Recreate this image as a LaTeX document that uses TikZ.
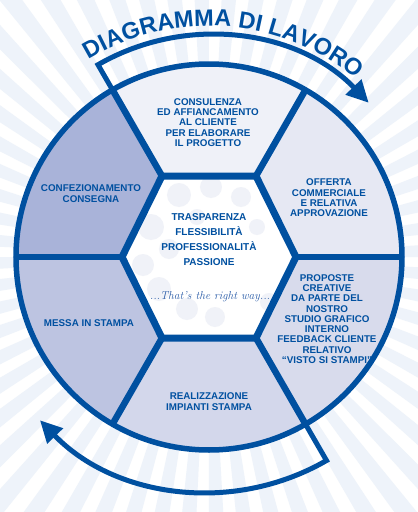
\documentclass[tikz,border=0pt]{standalone}
\usepackage{fontspec}
\setsansfont{Liberation Sans}
\usetikzlibrary{arrows.meta,decorations.text}
\definecolor{dblue}{HTML}{0050A0}
\definecolor{raycol}{HTML}{EEF3FA}
\definecolor{ftop}{HTML}{EFF1F8}
\definecolor{foff}{HTML}{E6E8F3}
\definecolor{fpro}{HTML}{D8DBEC}
\definecolor{frea}{HTML}{D3D7EB}
\definecolor{fmes}{HTML}{BDC4E1}
\definecolor{fcon}{HTML}{A9B3D9}
\definecolor{bubble}{HTML}{F0F2F8}
\definecolor{sblue}{HTML}{2A5CA8}
\newcommand\dgtitlefont{\sffamily\bfseries\fontsize{23.5}{23.5}\selectfont}
\begin{document}
\begin{tikzpicture}[x=1pt,y=1pt,
  lbl/.style={font=\sffamily\bfseries\fontsize{9.8}{10.3}\selectfont, text=dblue, align=center, inner sep=0pt},
  core/.style={font=\sffamily\bfseries\fontsize{10}{15}\selectfont, text=dblue, align=center, inner sep=0pt},
  ring/.style={draw=dblue, line width=6.5pt},
  flow/.style={draw=dblue, line width=5pt, line join=miter, -{Triangle[length=22pt,width=21pt]}},
]
\useasboundingbox (-209,-255) rectangle (209,257);
\fill[white] (-209,-255) rectangle (209,257);
% background rays
\begin{scope}
  \clip (-209,-255) rectangle (209,257);
  \foreach \a in {0,6,...,354} {\fill[raycol] (0,0) -- (\a:700) -- (\a+3.2:700) -- cycle;}
\end{scope}
% geometry
\coordinate (h0) at (87,0);
\coordinate (h60) at (47,81);
\coordinate (h120) at (-47,81);
\coordinate (h180) at (-87,0);
\coordinate (h240) at (-47,-81);
\coordinate (h300) at (47,-81);
\foreach \a in {0,60,120,180,240,300} {\coordinate (o\a) at (\a:193);}
% segments
\fill[ftop] (h60) -- (o60) arc[start angle=60,end angle=120,radius=193pt] -- (h120) -- cycle;
\fill[foff] (h0) -- (o0) arc[start angle=0,end angle=60,radius=193pt] -- (h60) -- cycle;
\fill[fpro] (h300) -- (o300) arc[start angle=-60,end angle=0,radius=193pt] -- (h0) -- cycle;
\fill[frea] (h240) -- (o240) arc[start angle=-120,end angle=-60,radius=193pt] -- (h300) -- cycle;
\fill[fmes] (h180) -- (o180) arc[start angle=180,end angle=240,radius=193pt] -- (h240) -- cycle;
\fill[fcon] (h120) -- (o120) arc[start angle=120,end angle=180,radius=193pt] -- (h180) -- cycle;
% hexagon interior
\fill[white] (h0) -- (h60) -- (h120) -- (h180) -- (h240) -- (h300) -- cycle;
\begin{scope}
  \clip (h0) -- (h60) -- (h120) -- (h180) -- (h240) -- (h300) -- cycle;
  \foreach \p/\r in {(-30,62)/12,(2,70)/11,(32,60)/10,(-58,30)/13,(-40,8)/10,(-66,-8)/11,(-50,-32)/12,(-22,-52)/11,(6,-60)/10,(-75,-55)/9,(60,-45)/9,(48,30)/8,(-12,40)/8}
    {\fill[bubble] \p circle[radius=\r pt];}
\end{scope}
% arrows
\draw[flow] (o120) -- (120:222) arc[start angle=120,end angle=44,radius=222pt];
\draw[flow] (o300) -- (-60:235) arc[start angle=-60,end angle=-136,radius=235pt];
% spokes, hexagon, circle
\foreach \a in {0,60,120,180,240,300} {\draw[ring] (h\a) -- (o\a);}
\draw[ring, line width=7pt, line join=miter] (h0) -- (h60) -- (h120) -- (h180) -- (h240) -- (h300) -- cycle;
\draw[draw=dblue, line width=5.5pt] (0,0) circle[radius=193pt];
% title
\path[decorate, decoration={text along path, text={|\dgtitlefont|DIAGRAMMA DI LAVORO}, text align=center, text color=dblue}]
  (150:231) arc[start angle=150,end angle=22,radius=231pt];
% labels
\node[lbl] (consulenza) at (-1,134.5) {CONSULENZA\\ED AFFIANCAMENTO\\AL CLIENTE\\PER ELABORARE\\IL PROGETTO};
\node[lbl] (offerta) at (120,59) {OFFERTA\\COMMERCIALE\\E RELATIVA\\APPROVAZIONE};
\node[lbl] (proposte) at (118,-62) {PROPOSTE\\CREATIVE\\DA PARTE DEL\\NOSTRO\\STUDIO GRAFICO\\INTERNO\\FEEDBACK CLIENTE\\RELATIVO\\“VISTO SI STAMPI”};
\node[lbl] (confez) at (-118,63.5) {CONFEZIONAMENTO\\CONSEGNA};
\node[lbl] (messa) at (-120,-66) {MESSA IN STAMPA};
\node[lbl] (realizz) at (0,-144.5) {REALIZZAZIONE\\IMPIANTI STAMPA};
\node[core] (valori) at (0,17.5) {TRASPARENZA\\FLESSIBILITÀ\\PROFESSIONALITÀ\\PASSIONE};
\node[text=sblue, font=\rmfamily\itshape\fontsize{11.5}{11.5}\selectfont, inner sep=0pt] (motto) at (1,-40) {...That's the right way...};
\end{tikzpicture}
\end{document}
